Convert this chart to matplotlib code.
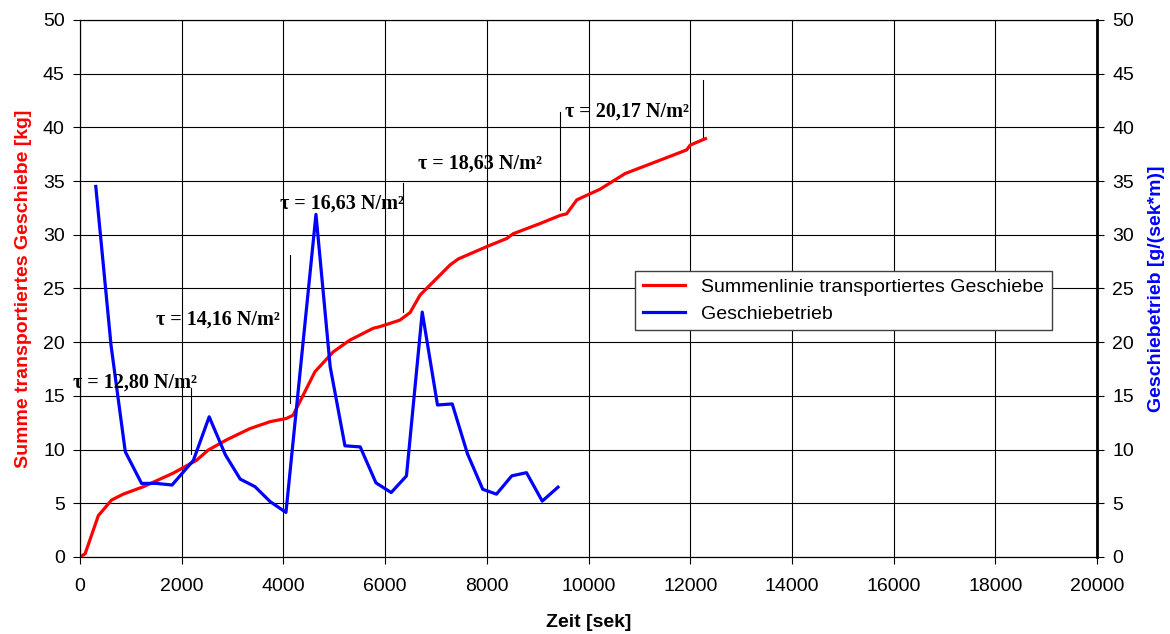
import matplotlib.pyplot as plt

# cumulative transported bedload (left axis)
zeit_summe = [0, 100, 360, 620, 850, 1250, 1830, 2290, 2520, 2880, 3340, 3740,
              4060, 4190, 4620, 4980, 5310, 5770, 5900, 6290, 6490, 6690, 6880,
              7280, 7440, 8000, 8390, 8520, 9050, 9440, 9570, 9770, 10230, 10720,
              11410, 11930, 12000, 12300]
summe_kg = [0.0, 0.3, 3.85, 5.3, 5.85, 6.55, 7.8, 9.0, 9.95, 10.9, 11.95, 12.6,
            12.9, 13.2, 17.25, 19.1, 20.2, 21.3, 21.45, 22.05, 22.75, 24.4, 25.3,
            27.2, 27.75, 28.9, 29.65, 30.1, 31.05, 31.8, 31.95, 33.25, 34.25, 35.7,
            36.95, 37.9, 38.35, 38.95]

# bedload transport rate (right axis)
zeit_trieb = [310, 610, 890, 1210, 1500, 1810, 2230, 2540, 2860, 3150, 3440, 3740,
              4050, 4640, 4920, 5210, 5510, 5820, 6120, 6420, 6730, 7030, 7320,
              7620, 7920, 8190, 8490, 8780, 9090, 9400]
trieb = [34.5, 19.7, 9.8, 6.85, 6.85, 6.7, 9.0, 13.05, 9.5, 7.25, 6.55, 5.15,
         4.15, 31.9, 17.7, 10.35, 10.25, 6.9, 6.0, 7.55, 22.8, 14.15, 14.25,
         9.6, 6.3, 5.85, 7.55, 7.85, 5.2, 6.5]

# shear stress steps
tau_labels = ["τ = 12,80 N/m²", "τ = 14,16 N/m²", "τ = 16,63 N/m²",
              "τ = 18,63 N/m²", "τ = 20,17 N/m²"]
tau_text_x = [-140, 1500, 3930, 6650, 9540]
tau_text_y = [16.2, 22.1, 32.9, 36.65, 41.45]
tau_line_x = [2180, 4120, 6360, 9430, 12260]
tau_line_lo = [9.6, 14.3, 22.8, 32.3, 39.1]
tau_line_hi = [15.7, 28.1, 34.8, 41.4, 44.4]

RED = "#FF0000"
BLUE = "#0000FF"

plt.rcParams["font.family"] = ["Liberation Sans", "DejaVu Sans"]

fig = plt.figure(figsize=(11.7, 6.34), dpi=100)
ax = fig.add_axes([0.0684, 0.1215, 0.8692, 0.847])
ax2 = ax.twinx()

ax.set_xlim(0, 20000)
ax.set_ylim(0, 50)
ax2.set_ylim(0, 50)
ax.set_xticks(range(0, 20001, 2000))
ax.set_yticks(range(0, 51, 5))
ax2.set_yticks(range(0, 51, 5))

ax.grid(True, color="black", linewidth=0.8)
ax.set_axisbelow(True)

line_sum, = ax.plot(zeit_summe, summe_kg, color=RED, linewidth=2.3,
                    label="Summenlinie transportiertes Geschiebe", zorder=3)
line_rate, = ax2.plot(zeit_trieb, trieb, color=BLUE, linewidth=2.3,
                      label="Geschiebetrieb", zorder=3)

for x, lo, hi in zip(tau_line_x, tau_line_lo, tau_line_hi):
    ax2.plot([x, x], [lo, hi], color="black", linewidth=0.8, zorder=4)

for label, x, y in zip(tau_labels, tau_text_x, tau_text_y):
    ax2.text(x, y, label, family="Liberation Serif", fontweight="bold",
             fontsize=14.5, ha="left", va="center", clip_on=False, zorder=5)

for a in (ax, ax2):
    a.tick_params(labelsize=14, length=5, width=0.8, color="black")
    a.tick_params(axis="y", pad=6)
    for side in ("top", "bottom", "left"):
        a.spines[side].set_linewidth(0.8)
ax.tick_params(axis="x", pad=10)
ax2.spines["right"].set_linewidth(2.0)

ax.set_xlabel("Zeit [sek]", fontsize=14, fontweight="bold", labelpad=14)
ax.set_ylabel("Summe transportiertes Geschiebe [kg]", fontsize=14,
              fontweight="bold", color=RED, labelpad=8)
ax2.set_ylabel("Geschiebetrieb [g/(sek*m)]", fontsize=14, fontweight="bold",
               color=BLUE, labelpad=10)

leg = ax2.legend(handles=[line_sum, line_rate], loc="upper left",
                 bbox_to_anchor=(0.536, 0.551), fontsize=14, fancybox=False,
                 framealpha=1, edgecolor="#404040", handlelength=2.2,
                 borderpad=0.4, labelspacing=0.45)
leg.get_frame().set_linewidth(1.0)

fig.savefig("out.png", dpi=100)
